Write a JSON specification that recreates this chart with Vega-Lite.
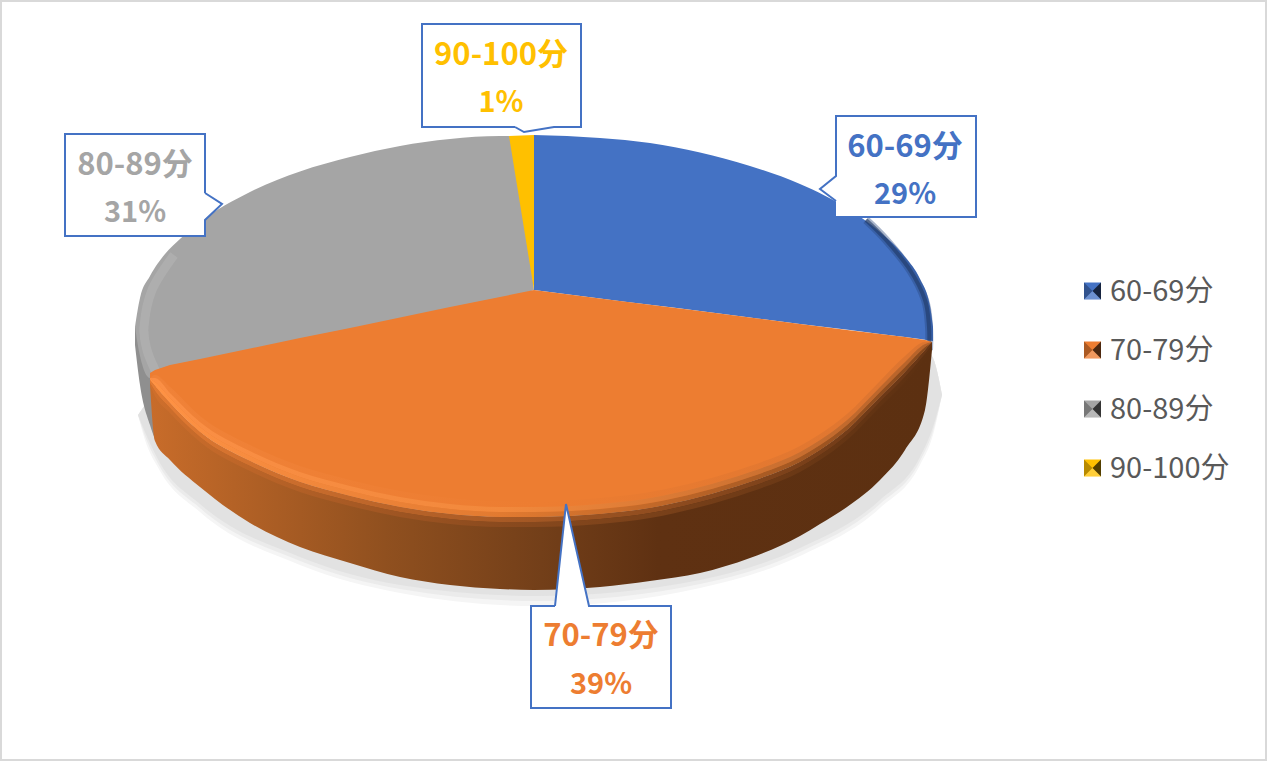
{
"$schema":"https://vega.github.io/schema/vega-lite/v6.json",
"width":1267,"height":761,"padding":0,"autosize":{"type":"fit","contains":"padding"},
"background":"white","view":{"stroke":null},
"datasets":{
"frame":[{"x":1,"x2":1266,"y":1,"y2":760}],
"shadow":[
{"x":138,"top":415,"s1":415,"s2":415,"s3":415},{"x":145,"top":405,"s1":440,"s2":436,"s3":432},{"x":160,"top":385,"s1":471,"s2":467,"s3":463},{"x":200,"top":367,"s1":512,"s2":508,"s3":504},{"x":300,"top":345,"s1":565,"s2":561,"s3":557},{"x":400,"top":345,"s1":593,"s2":589,"s3":585},{"x":538,"top":345,"s1":606,"s2":601,"s3":596},{"x":700,"top":345,"s1":588,"s2":584,"s3":580},{"x":800,"top":345,"s1":556,"s2":552,"s3":548},{"x":880,"top":345,"s1":508,"s2":504,"s3":500},{"x":920,"top":345,"s1":465,"s2":461,"s3":457},{"x":933,"top":358,"s1":435,"s2":431,"s3":427},{"x":942,"top":395,"s1":395,"s2":395,"s3":395}],
"grayWall":[{"x":135,"y":327,"y2":345},{"x":140,"y":330,"y2":385},{"x":150,"y":340,"y2":425},{"x":156,"y":360,"y2":442}],
"faces":[
{"cat":"60-69分","x":534,"y":135,"y2":290},{"cat":"60-69分","x":600,"y":138,"y2":298.4},{"cat":"60-69分","x":650,"y":143,"y2":304.8},{"cat":"60-69分","x":700,"y":152.5,"y2":311},{"cat":"60-69分","x":750,"y":166,"y2":317.5},{"cat":"60-69分","x":800,"y":184,"y2":324},{"cat":"60-69分","x":850,"y":210,"y2":330},{"cat":"60-69分","x":880,"y":232,"y2":334},{"cat":"60-69分","x":905,"y":257,"y2":337},{"cat":"60-69分","x":920,"y":279,"y2":339},{"cat":"60-69分","x":930,"y":306,"y2":340.5},{"cat":"60-69分","x":933,"y":327,"y2":341},
{"cat":"80-89分","x":135,"y":327,"y2":327},{"cat":"80-89分","x":140,"y":298,"y2":356},{"cat":"80-89分","x":150,"y":276,"y2":378},{"cat":"80-89分","x":165,"y":254,"y2":372},{"cat":"80-89分","x":180,"y":239,"y2":369},{"cat":"80-89分","x":200,"y":222,"y2":365},{"cat":"80-89分","x":250,"y":192,"y2":354},{"cat":"80-89分","x":300,"y":171.5,"y2":343},{"cat":"80-89分","x":350,"y":157,"y2":333},{"cat":"80-89分","x":400,"y":146,"y2":322},{"cat":"80-89分","x":450,"y":139,"y2":311},{"cat":"80-89分","x":500,"y":136,"y2":300},{"cat":"80-89分","x":509,"y":136,"y2":298},{"cat":"80-89分","x":534,"y":290,"y2":290},
{"cat":"90-100分","x":509,"y":136,"y2":136},{"cat":"90-100分","x":534,"y":135,"y2":290}],
"grayRim":[{"i":0,"x":174,"y":255},{"i":1,"x":152,"y":290},{"i":2,"x":144,"y":327},{"i":3,"x":147,"y":350},{"i":4,"x":156,"y":372}],
"blueRim":[{"i":0,"x":866,"y":220},{"i":1,"x":886,"y":240},{"i":2,"x":910,"y":270},{"i":3,"x":925,"y":300},{"i":4,"x":929,"y":327},{"i":5,"x":929,"y":350}],
"rim":[
{"x":150,"ridge":373,"b0":378,"b1":378,"b2":379,"w":380,"b4":383,"b5":385,"bottom":385},
{"x":155,"ridge":370,"b0":375,"b1":378,"b2":382,"w":386,"b4":391,"b5":396,"bottom":441},
{"x":170,"ridge":365,"b0":387,"b1":393,"b2":398,"w":403,"b4":408,"b5":413,"bottom":460},
{"x":200,"ridge":359,"b0":416,"b1":422,"b2":427,"w":432,"b4":437,"b5":442,"bottom":487},
{"x":250,"ridge":348.5,"b0":445,"b1":451,"b2":456,"w":461,"b4":466,"b5":471,"bottom":523},
{"x":300,"ridge":338,"b0":466,"b1":472,"b2":477,"w":482,"b4":487,"b5":492,"bottom":547},
{"x":350,"ridge":328,"b0":480,"b1":486,"b2":491,"w":496,"b4":501,"b5":506,"bottom":563},
{"x":400,"ridge":317.5,"b0":491,"b1":497,"b2":502,"w":507,"b4":512,"b5":517,"bottom":577},
{"x":450,"ridge":307,"b0":498,"b1":504,"b2":509,"w":514,"b4":519,"b5":524,"bottom":585},
{"x":500,"ridge":297,"b0":501,"b1":507,"b2":512,"w":517,"b4":522,"b5":527,"bottom":589},
{"x":534,"ridge":290,"b0":501,"b1":507,"b2":512,"w":517,"b4":522,"b5":527,"bottom":590},
{"x":600,"ridge":298.4,"b0":498,"b1":504,"b2":509,"w":514,"b4":519,"b5":524,"bottom":587},
{"x":650,"ridge":304.8,"b0":492,"b1":498,"b2":503,"w":508,"b4":513,"b5":518,"bottom":581},
{"x":700,"ridge":311,"b0":481,"b1":487,"b2":492,"w":497,"b4":502,"b5":507,"bottom":573},
{"x":750,"ridge":317.5,"b0":466,"b1":472,"b2":477,"w":482,"b4":487,"b5":492,"bottom":558},
{"x":800,"ridge":324,"b0":446,"b1":452,"b2":457,"w":462,"b4":467,"b5":472,"bottom":536},
{"x":820,"ridge":326.5,"b0":434,"b1":440,"b2":445,"w":450,"b4":455,"b5":460,"bottom":524},
{"x":847,"ridge":330,"b0":414,"b1":420,"b2":425,"w":430,"b4":435,"b5":440,"bottom":507},
{"x":880,"ridge":334,"b0":381,"b1":387,"b2":392,"w":397,"b4":402,"b5":407,"bottom":480},
{"x":905,"ridge":337,"b0":356,"b1":362,"b2":367,"w":372,"b4":377,"b5":382,"bottom":450},
{"x":925,"ridge":340,"b0":342,"b1":344,"b2":347,"w":350,"b4":354,"b5":358,"bottom":410},
{"x":932,"ridge":342,"b0":342,"b1":342,"b2":342,"w":342,"b4":345,"b5":348,"bottom":350}],
"boxes":[{"cat":"60-69分","x":836,"x2":976,"y":116,"y2":217},{"cat":"70-79分","x":531,"x2":671,"y":606,"y2":708},{"cat":"80-89分","x":65,"x2":205,"y":134,"y2":236},{"cat":"90-100分","x":422,"x2":581,"y":24,"y2":127}],
"pointers":[
{"cat":"60-69分","x":820,"y":189,"y2":189},{"cat":"60-69分","x":837,"y":176,"y2":201},
{"cat":"80-89分","x":204,"y":193,"y2":220},{"cat":"80-89分","x":222,"y":204,"y2":204},
{"cat":"90-100分","x":515,"y":126,"y2":127},{"cat":"90-100分","x":524,"y":126,"y2":132},{"cat":"90-100分","x":554,"y":126,"y2":127},
{"cat":"70-79分","x":555,"y":607,"y2":607},{"cat":"70-79分","x":566,"y":504,"y2":607},{"cat":"70-79分","x":589,"y":607,"y2":607}],
"outlines":[
{"cat":"60-69分","i":0,"x":836,"y":201},{"cat":"60-69分","i":1,"x":820,"y":189},{"cat":"60-69分","i":2,"x":836,"y":176},{"cat":"60-69分","i":3,"x":836,"y":116},{"cat":"60-69分","i":4,"x":976,"y":116},{"cat":"60-69分","i":5,"x":976,"y":217},{"cat":"60-69分","i":6,"x":836,"y":217},
{"cat":"70-79分","i":0,"x":555,"y":606},{"cat":"70-79分","i":1,"x":566,"y":504},{"cat":"70-79分","i":2,"x":589,"y":606},{"cat":"70-79分","i":3,"x":671,"y":606},{"cat":"70-79分","i":4,"x":671,"y":708},{"cat":"70-79分","i":5,"x":531,"y":708},{"cat":"70-79分","i":6,"x":531,"y":606},{"cat":"70-79分","i":7,"x":555,"y":606},
{"cat":"80-89分","i":0,"x":205,"y":193},{"cat":"80-89分","i":1,"x":222,"y":204},{"cat":"80-89分","i":2,"x":205,"y":220},{"cat":"80-89分","i":3,"x":205,"y":236},{"cat":"80-89分","i":4,"x":65,"y":236},{"cat":"80-89分","i":5,"x":65,"y":134},{"cat":"80-89分","i":6,"x":205,"y":134},{"cat":"80-89分","i":7,"x":205,"y":193},
{"cat":"90-100分","i":0,"x":515,"y":127},{"cat":"90-100分","i":1,"x":524,"y":132},{"cat":"90-100分","i":2,"x":554,"y":127},{"cat":"90-100分","i":3,"x":581,"y":127},{"cat":"90-100分","i":4,"x":581,"y":24},{"cat":"90-100分","i":5,"x":422,"y":24},{"cat":"90-100分","i":6,"x":422,"y":127},{"cat":"90-100分","i":7,"x":515,"y":127}],
"labels":[{"cat":"60-69分","pct":"29%","x":905,"y":146,"y2":193},{"cat":"70-79分","pct":"39%","x":601,"y":635,"y2":683},{"cat":"80-89分","pct":"31%","x":135,"y":164,"y2":211},{"cat":"90-100分","pct":"1%","x":501,"y":54,"y2":101}],
"legend":[{"cat":"60-69分","x":1092.5,"tx":1110,"y":291},{"cat":"70-79分","x":1092.5,"tx":1110,"y":350},{"cat":"80-89分","x":1092.5,"tx":1110,"y":409},{"cat":"90-100分","x":1092.5,"tx":1110,"y":468}]
},
"encoding":{
"x":{"field":"x","type":"quantitative","scale":{"domain":[0,1267],"nice":false,"zero":false},"axis":null},
"y":{"field":"y","type":"quantitative","scale":{"domain":[761,0],"nice":false,"zero":false},"axis":null},
"color":{"field":"cat","type":"nominal","scale":{"domain":["60-69分","70-79分","80-89分","90-100分"],"range":["#4472c4","#ed7d31","#a5a5a5","#ffc000"]},"legend":null}
},
"layer":[
{"data":{"name":"frame"},"mark":{"type":"rect","fill":"white","stroke":"#d9d9d9","strokeWidth":2},"encoding":{"color":{"value":"white"},"x2":{"field":"x2"},"y2":{"field":"y2"}}},
{"data":{"name":"shadow"},"mark":{"type":"area","orient":"vertical","interpolate":"monotone"},"encoding":{"color":{"value":"#f5f5f5"},"y":{"field":"top","type":"quantitative"},"y2":{"field":"s1"}}},
{"data":{"name":"shadow"},"mark":{"type":"area","orient":"vertical","interpolate":"monotone"},"encoding":{"color":{"value":"#ebebeb"},"y":{"field":"top","type":"quantitative"},"y2":{"field":"s2"}}},
{"data":{"name":"shadow"},"mark":{"type":"area","orient":"vertical","interpolate":"monotone"},"encoding":{"color":{"value":"#e2e2e2"},"y":{"field":"top","type":"quantitative"},"y2":{"field":"s3"}}},
{"data":{"name":"grayWall"},"mark":{"type":"area","orient":"vertical","interpolate":"monotone"},"encoding":{"color":{"value":"#8f8f8f"},"y2":{"field":"y2"}}},
{"data":{"name":"faces"},"mark":{"type":"area","orient":"vertical","interpolate":"monotone"},"encoding":{"y2":{"field":"y2"}}},
{"data":{"name":"grayRim"},"mark":{"type":"line","strokeWidth":9,"opacity":0.55,"strokeCap":"butt","interpolate":"cardinal"},"encoding":{"color":{"value":"#b6b6b6"},"order":{"field":"i"}}},
{"data":{"name":"blueRim"},"mark":{"type":"line","strokeWidth":8,"opacity":0.4,"strokeCap":"butt","interpolate":"cardinal"},"encoding":{"color":{"value":"#27467c"},"order":{"field":"i"}}},
{"data":{"name":"blueRim"},"mark":{"type":"line","strokeWidth":4,"opacity":0.6,"strokeCap":"butt","interpolate":"cardinal"},"encoding":{"color":{"value":"#1f3864"},"order":{"field":"i"}}},
{"data":{"name":"rim"},"mark":{"type":"area","orient":"vertical","interpolate":"monotone"},"encoding":{"color":{"value":{"gradient":"linear","x1":0,"y1":0,"x2":1,"y2":0,"stops":[{"offset":0,"color":"#c86c2a"},{"offset":0.3,"color":"#90501f"},{"offset":0.5,"color":"#733f19"},{"offset":0.65,"color":"#5f3112"},{"offset":1,"color":"#5c3011"}]}},"y":{"field":"w","type":"quantitative"},"y2":{"field":"bottom"}}},
{"data":{"name":"rim"},"mark":{"type":"area","orient":"vertical"},"encoding":{"color":{"datum":"70-79分"},"y":{"field":"ridge","type":"quantitative"},"y2":{"field":"w"}}},
{"data":{"name":"rim"},"mark":{"type":"area","orient":"vertical","interpolate":"monotone"},"encoding":{"color":{"value":{"gradient":"linear","x1":0,"y1":0,"x2":1,"y2":0,"stops":[{"offset":0,"color":"#f08238"},{"offset":0.5,"color":"#ed7d31"},{"offset":1,"color":"#dd7530"}]}},"y":{"field":"b0","type":"quantitative"},"y2":{"field":"b1"}}},
{"data":{"name":"rim"},"mark":{"type":"area","orient":"vertical","interpolate":"monotone"},"encoding":{"color":{"value":{"gradient":"linear","x1":0,"y1":0,"x2":1,"y2":0,"stops":[{"offset":0,"color":"#fb8f45"},{"offset":0.45,"color":"#f2893c"},{"offset":1,"color":"#b5622a"}]}},"y":{"field":"b1","type":"quantitative"},"y2":{"field":"b2"}}},
{"data":{"name":"rim"},"mark":{"type":"area","orient":"vertical","interpolate":"monotone"},"encoding":{"color":{"value":{"gradient":"linear","x1":0,"y1":0,"x2":1,"y2":0,"stops":[{"offset":0,"color":"#ff9345"},{"offset":0.45,"color":"#e27a30"},{"offset":1,"color":"#86481c"}]}},"y":{"field":"b2","type":"quantitative"},"y2":{"field":"w"}}},
{"data":{"name":"rim"},"mark":{"type":"area","orient":"vertical","interpolate":"monotone"},"encoding":{"color":{"value":{"gradient":"linear","x1":0,"y1":0,"x2":1,"y2":0,"stops":[{"offset":0,"color":"#e27a32"},{"offset":0.45,"color":"#a85a25"},{"offset":1,"color":"#663515"}]}},"y":{"field":"w","type":"quantitative"},"y2":{"field":"b4"}}},
{"data":{"name":"rim"},"mark":{"type":"area","orient":"vertical","interpolate":"monotone"},"encoding":{"color":{"value":{"gradient":"linear","x1":0,"y1":0,"x2":1,"y2":0,"stops":[{"offset":0,"color":"#cf6f2c"},{"offset":0.45,"color":"#8a4a1e"},{"offset":1,"color":"#5c3011"}]}},"y":{"field":"b4","type":"quantitative"},"y2":{"field":"b5"}}},
{"data":{"name":"boxes"},"mark":{"type":"rect"},"encoding":{"color":{"value":"white"},"x2":{"field":"x2"},"y2":{"field":"y2"}}},
{"data":{"name":"pointers"},"mark":{"type":"area","orient":"vertical"},"encoding":{"color":{"value":"white"},"detail":{"field":"cat"},"y2":{"field":"y2"}}},
{"data":{"name":"outlines"},"mark":{"type":"line","strokeWidth":2,"strokeJoin":"miter"},"encoding":{"color":{"value":"#4472c4"},"detail":{"field":"cat"},"order":{"field":"i"}}},
{"data":{"name":"labels"},"mark":{"type":"text","font":"Noto Sans CJK SC","fontWeight":"bold","fontSize":31,"baseline":"middle","align":"center","dy":2},"encoding":{"text":{"field":"cat"}}},
{"data":{"name":"labels"},"mark":{"type":"text","font":"Noto Sans CJK SC","fontWeight":"bold","fontSize":29,"baseline":"middle","align":"center","dy":2},"encoding":{"y":{"field":"y2","type":"quantitative"},"text":{"field":"pct"}}},
{"data":{"name":"legend"},"mark":{"type":"point","filled":true,"shape":"square","size":289,"opacity":1},"encoding":{}},
{"data":{"name":"legend"},"mark":{"type":"point","filled":true,"shape":"M1,-1L0,0L1,1Z","size":289,"opacity":0.68,"strokeWidth":0},"encoding":{"color":{"value":"black"}}},
{"data":{"name":"legend"},"mark":{"type":"point","filled":true,"shape":"M-1,-1L0,0L-1,1Z","size":289,"opacity":0.28,"strokeWidth":0},"encoding":{"color":{"value":"black"}}},
{"data":{"name":"legend"},"mark":{"type":"point","filled":true,"shape":"M-1,1L0,0L1,1Z","size":289,"opacity":0.22,"strokeWidth":0},"encoding":{"color":{"value":"white"}}},
{"data":{"name":"legend"},"mark":{"type":"text","font":"Noto Sans CJK SC","fontSize":29,"baseline":"middle","align":"left","dy":1},"encoding":{"x":{"field":"tx","type":"quantitative"},"text":{"field":"cat"},"color":{"value":"#595959"}}}
]
}
